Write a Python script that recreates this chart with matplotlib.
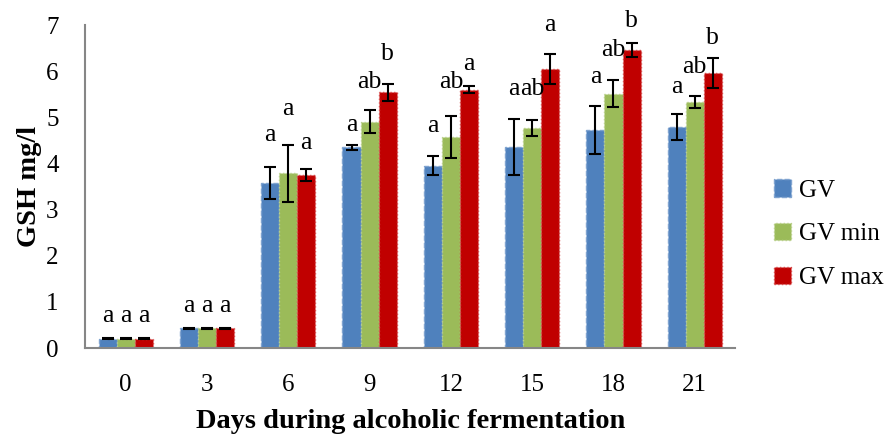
import numpy as np
import matplotlib
matplotlib.use("Agg")
import matplotlib.pyplot as plt

# days sampled during alcoholic fermentation
days = ["0", "3", "6", "9", "12", "15", "18", "21"]

# GSH (mg/l) means and error bars
gv = [0.20, 0.43, 3.57, 4.35, 3.95, 4.35, 4.73, 4.79]
gv_err = [0.01, 0.01, 0.35, 0.06, 0.21, 0.61, 0.52, 0.29]
gv_min = [0.20, 0.43, 3.79, 4.91, 4.58, 4.77, 5.51, 5.33]
gv_min_err = [0.01, 0.01, 0.62, 0.25, 0.46, 0.17, 0.29, 0.13]
gv_max = [0.20, 0.43, 3.74, 5.54, 5.60, 6.05, 6.46, 5.96]
gv_max_err = [0.01, 0.01, 0.13, 0.19, 0.08, 0.33, 0.145, 0.33]

# significance letters and the height they sit at (data units)
gv_letters = ["a", "a", "a", "a", "a", "a", "a", "a"]
gv_min_letters = ["a", "a", "a", "ab", "ab", "ab", "ab", "ab"]
gv_max_letters = ["a", "a", "a", "b", "a", "a", "b", "b"]
gv_letter_y = [0.57, 0.79, 4.48, 4.71, 4.69, 5.49, 5.74, 5.52]
gv_min_letter_y = [0.57, 0.79, 5.05, 5.63, 5.63, 5.49, 6.32, 5.96]
gv_max_letter_y = [0.57, 0.79, 4.32, 6.25, 6.02, 6.88, 6.96, 6.59]

plt.rcParams['font.family'] = ['Liberation Serif', 'DejaVu Serif']

fig = plt.figure(figsize=(8.91, 4.40), dpi=100)
ax = fig.add_axes([0.0954, 0.209, 0.730, 0.734])

x = np.arange(len(days))
w = 0.222
series = [
    ("GV", gv, gv_err, gv_letters, gv_letter_y, "#4F81BD", "#7FA3D0", "--"),
    ("GV min", gv_min, gv_min_err, gv_min_letters, gv_min_letter_y, "#9BBB59", "#B9D08A", ":"),
    ("GV max", gv_max, gv_max_err, gv_max_letters, gv_max_letter_y, "#C00000", "#D84A4A", ":"),
]

for i, (name, vals, errs, letters, ly, col, edge, ls) in enumerate(series):
    pos = x + (i - 1) * w
    ax.bar(pos, vals, width=w, color=col, edgecolor=edge, linewidth=1.0,
           linestyle=ls, label=name, zorder=2)
    ax.errorbar(pos, vals, yerr=errs, fmt="none", ecolor="black",
                elinewidth=1.5, capsize=4.5, capthick=1.5, zorder=3)
    for p, t, yy in zip(pos, letters, ly):
        ax.text(p, yy, t, ha="center", va="baseline", fontsize=18.5)

ax.set_xlim(-0.5, 7.5)
ax.set_ylim(0, 7)
ax.set_xticks(x)
ax.set_xticklabels(days)
ax.set_yticks(range(0, 8))
ax.tick_params(axis="both", length=0, labelsize=18)
ax.tick_params(axis="x", pad=19)
ax.tick_params(axis="y", pad=19)

for s in ["top", "right"]:
    ax.spines[s].set_visible(False)
for s in ["left", "bottom"]:
    ax.spines[s].set_color("#868686")
    ax.spines[s].set_linewidth(1.5)

ax.set_xlabel("Days during alcoholic fermentation", fontsize=20.5,
              fontweight="bold")
ax.xaxis.set_label_coords(0.5, -0.19)
ax.set_ylabel("GSH mg/l", fontsize=20.5, fontweight="bold")
ax.yaxis.set_label_coords(-0.066, 0.5)

fig.legend(loc="center left", bbox_to_anchor=(0.857, 0.468), frameon=False,
           fontsize=18, handlelength=0.7, handleheight=0.7, handletextpad=0.3,
           labelspacing=0.85, borderaxespad=0)

fig.savefig("out.png", dpi=100)
